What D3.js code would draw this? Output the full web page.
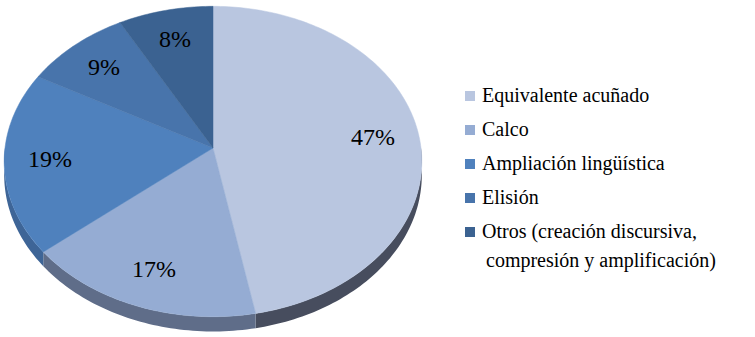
<!DOCTYPE html>
<html>
<head>
<meta charset="utf-8">
<script src="https://cdn.jsdelivr.net/npm/d3@7"></script>
</head>
<body style="margin:0">
<svg width="755" height="337"></svg>
<script>
const categories = ['Equivalente acuñado', 'Calco', 'Ampliación lingüística', 'Elisión',
                    'Otros (creación discursiva,|compresión y amplificación)'];
const values = [47, 17, 19, 9, 8];
const pctLabels = ['47%', '17%', '19%', '9%', '8%'];

const faceColors = ['#b9c6e0', '#95acd3', '#4f81bd', '#4874ab', '#3b6291'];
const sideColors = ['#474d5e', '#5f6d89', '#3e6597', '#365b8a', '#2e4d78'];
const fontFamily = 'Liberation Serif';

const svg = d3.select('svg');

// perspective pie: screen = centre + A*sin / (1 + k*cos)
const cx = 213, cy = 148;
const A = 208, B = 154, k = 0.087, depth = 13.5;

const project = (theta, r = 1) => {
  const z = 1 + k * r * Math.cos(theta);
  return [cx + A * r * Math.sin(theta) / z, cy - B * r * Math.cos(theta) / z];
};

const pie = d3.pie().sort(null).value(d => d)(values);

const arcPoints = (a0, a1, r = 1) => {
  const n = Math.max(4, Math.ceil((a1 - a0) / 0.02));
  return d3.range(n + 1).map(i => project(a0 + (a1 - a0) * i / n, r));
};

const line = d3.line();

// side walls (front half only)
const sides = svg.append('g').attr('class', 'sides');
pie.forEach((d, i) => {
  const a0 = Math.max(d.startAngle, Math.PI / 2);
  const a1 = Math.min(d.endAngle, 3 * Math.PI / 2);
  if (a1 <= a0) return;
  const top = arcPoints(a0, a1);
  const bottom = top.map((p, j) => {
    const t = a0 + (a1 - a0) * j / (top.length - 1);
    return [p[0], p[1] + depth / (1 + k * Math.cos(t))];
  }).reverse();
  sides.append('path')
    .attr('d', line(top.concat(bottom)) + 'Z')
    .attr('fill', sideColors[i]);
});

// top faces
svg.append('g').attr('class', 'faces')
  .selectAll('path')
  .data(pie)
  .join('path')
    .attr('d', d => line([[cx, cy]].concat(arcPoints(d.startAngle, d.endAngle))) + 'Z')
    .attr('fill', (d, i) => faceColors[i])
    .attr('stroke', (d, i) => faceColors[i])
    .attr('stroke-width', 0.5);

// percentage labels
pie.forEach((d, i) => {
  const p = project((d.startAngle + d.endAngle) / 2, 0.78);
  svg.append('text')
    .attr('x', Math.round(p[0]))
    .attr('y', Math.round(p[1] + 8))
    .attr('text-anchor', 'middle')
    .attr('font-family', 'serif')
    .style('font-family', fontFamily)
    .attr('font-size', 24)
    .text(pctLabels[i]);
});

// legend
const rowY = d3.scalePoint().domain(d3.range(categories.length)).range([96, 232]);

categories.forEach((c, i) => {
  const y = rowY(i);
  svg.append('rect')
    .attr('x', 465).attr('y', y - 5)
    .attr('width', 10).attr('height', 10)
    .attr('fill', faceColors[i]);
  c.split('|').forEach((part, j) => {
    svg.append('text')
      .attr('x', 465 + (j ? 21 : 17))
      .attr('y', y + 6 + j * 29)
      .attr('font-family', 'serif')
      .style('font-family', fontFamily)
      .attr('font-size', 20)
      .text(part);
  });
});
</script>
</body>
</html>
